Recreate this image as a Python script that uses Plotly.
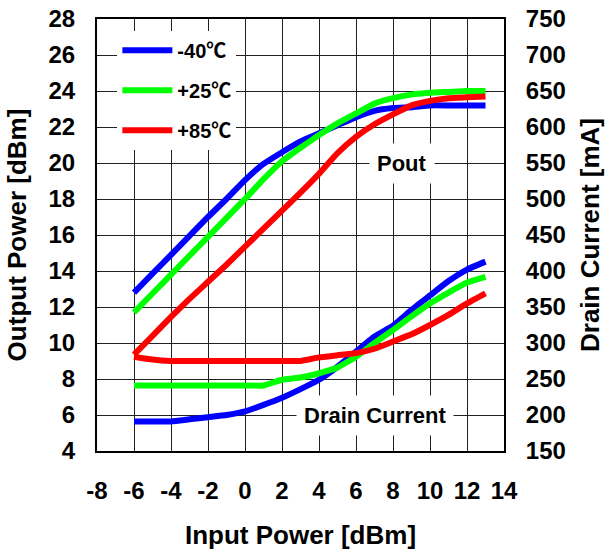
import plotly.graph_objects as go

# Input power sweep [dBm]
pin = [-6, -5, -4, -3, -2, -1, 0, 1, 2, 3, 4, 5, 6, 7, 8, 9, 10, 11, 12, 13]

# Output power [dBm] per temperature
pout_m40 = [12.8, 13.85, 14.9, 15.95, 17.0, 18.0, 19.05, 19.95, 20.6, 21.2,
            21.65, 22.1, 22.55, 22.9, 23.05, 23.1, 23.2, 23.2, 23.2, 23.2]
pout_p25 = [11.7, 12.75, 13.8, 14.85, 15.9, 16.95, 18.0, 19.1, 20.1, 20.85,
            21.55, 22.2, 22.75, 23.3, 23.6, 23.8, 23.9, 23.95, 24.0, 24.0]
pout_p85 = [9.35, 10.4, 11.45, 12.45, 13.4, 14.35, 15.35, 16.35, 17.35, 18.35,
            19.4, 20.55, 21.45, 22.15, 22.7, 23.2, 23.45, 23.6, 23.65, 23.7]

# Drain current [mA] per temperature
id_m40 = [191, 191, 191, 194, 197, 200, 205, 214, 224, 236,
          249, 267, 288, 309, 324, 346, 366, 386, 402, 413]
id_p25 = [241, 241, 241, 241, 241, 241, 241, 241, 249, 252,
          258, 266, 281, 300, 318, 337, 355, 370, 384, 392]
id_p85 = [281, 277, 275, 275, 275, 275, 275, 275, 275, 275,
          280, 283, 286, 292, 302, 312, 325, 339, 355, 369]

temps = ["-40℃", "+25℃", "+85℃"]
colors = ["#0000FF", "#00FF00", "#FF0000"]
pout_sets = [pout_m40, pout_p25, pout_p85]
id_sets = [id_m40, id_p25, id_p85]

x_ticks = [-8, -6, -4, -2, 0, 2, 4, 6, 8, 10, 12, 14]
x_labels = ["-8", "-6", "-4", "-2", "0", "2", "4", "6", "8", "10", "12", "14"]
y_ticks = [4, 6, 8, 10, 12, 14, 16, 18, 20, 22, 24, 26, 28]
y2_ticks = [150, 200, 250, 300, 350, 400, 450, 500, 550, 600, 650, 700, 750]

FONT = "Liberation Sans, Arial, Noto Sans CJK JP, sans-serif"
LW = 6

fig = go.Figure()
for name, col, pout in zip(temps, colors, pout_sets):
    fig.add_trace(go.Scatter(
        x=pin, y=pout, mode="lines", name=name, legendgroup=name,
        line=dict(color=col, width=LW, shape="spline", smoothing=0.4),
        yaxis="y",
    ))
for name, col, cur in zip(temps, colors, id_sets):
    fig.add_trace(go.Scatter(
        x=pin, y=cur, mode="lines", name=name, legendgroup=name,
        showlegend=False,
        line=dict(color=col, width=LW, shape="spline", smoothing=0.4),
        yaxis="y2",
    ))

tick_font = dict(family=FONT, size=24, color="black", weight="bold")
title_font = dict(family=FONT, size=26, color="black", weight="bold")

fig.update_layout(
    template="none",
    width=606, height=550,
    margin=dict(l=97, r=102, t=19, b=99, pad=0),
    paper_bgcolor="white", plot_bgcolor="white",
    showlegend=True,
    legend=dict(
        x=0.05, y=0.973, xanchor="left", yanchor="top",
        bgcolor="white", borderwidth=0,
        font=dict(family=FONT, size=20, color="black", weight="bold"),
        tracegroupgap=11, itemwidth=50,
    ),
    xaxis=dict(
        range=[-8, 14], tickvals=x_ticks, ticktext=x_labels, ticks="",
        tickfont=tick_font, ticklabelstandoff=17, automargin=False,
        showgrid=True, gridcolor="#222222", gridwidth=1,
        showline=True, linecolor="black", linewidth=2, mirror=True,
        zeroline=False,
        title=dict(text="Input Power [dBm]", font=title_font, standoff=39),
    ),
    yaxis=dict(
        range=[4, 28], tickvals=y_ticks, ticks="",
        tickfont=tick_font, ticklabelstandoff=15, automargin=False,
        showgrid=True, gridcolor="#222222", gridwidth=1,
        showline=True, linecolor="black", linewidth=2, mirror=True,
        zeroline=False,
        title=dict(text="Output Power [dBm]", font=title_font, standoff=14),
    ),
    yaxis2=dict(
        range=[150, 750], tickvals=y2_ticks, ticks="",
        overlaying="y", side="right", automargin=False,
        tickfont=tick_font, ticklabelstandoff=15,
        showgrid=False, zeroline=False,
        showline=True, linecolor="black", linewidth=2,
        title=dict(text="Drain Current [mA]", font=title_font, standoff=16),
    ),
    annotations=[
        dict(x=8.5, y=20, xref="x", yref="y", text="Pout", showarrow=False,
             font=dict(family=FONT, size=22, color="black", weight="bold"),
             bgcolor="white", borderpad=7),
        dict(x=7, y=6, xref="x", yref="y", text="Drain Current", showarrow=False,
             font=dict(family=FONT, size=22, color="black", weight="bold"),
             bgcolor="white", borderpad=7),
    ],
)

fig.write_html("out.html")
